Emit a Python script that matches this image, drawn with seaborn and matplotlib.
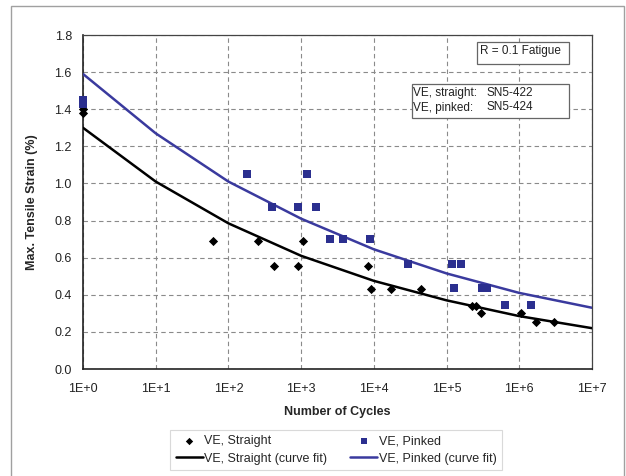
import numpy as np
import pandas as pd
import matplotlib
matplotlib.use("Agg")
import matplotlib.pyplot as plt
import seaborn as sns
from matplotlib.patches import Rectangle
from matplotlib.ticker import FixedLocator, FuncFormatter, MultipleLocator, LogLocator

# data
straight_cycles = [1, 1, 62, 252, 425, 895, 1050, 8200, 9100, 17000, 44500,
                   222000, 255000, 297000, 1070000, 1700000, 2960000]
straight_strain = [1.40, 1.38, 0.69, 0.69, 0.557, 0.557, 0.69, 0.557, 0.43, 0.43, 0.43,
                   0.341, 0.341, 0.30, 0.30, 0.253, 0.253]

pinked_cycles = [1, 1, 182, 400, 910, 1200, 1590, 2500, 3800, 8900, 29500,
                 120000, 128000, 159000, 309000, 364000, 636000, 1470000]
pinked_strain = [1.45, 1.43, 1.05, 0.875, 0.875, 1.05, 0.875, 0.70, 0.70, 0.70, 0.566,
                 0.566, 0.435, 0.566, 0.435, 0.435, 0.347, 0.347]

fit_cycles = [1, 1e1, 1e2, 1e3, 1e4, 1e5, 1e6, 1e7]
straight_fit = [1.30, 1.01, 0.785, 0.61, 0.475, 0.37, 0.285, 0.22]
pinked_fit = [1.59, 1.27, 1.01, 0.81, 0.645, 0.515, 0.41, 0.33]

x_ticks = [1, 1e1, 1e2, 1e3, 1e4, 1e5, 1e6, 1e7]
y_ticks = [0.0, 0.2, 0.4, 0.6, 0.8, 1.0, 1.2, 1.4, 1.6, 1.8]

BLUE_PT = "#2B2F8F"
BLUE_LN = "#3A3A9E"
W, H = 626, 476


def fx(x):
    return x / W


def fy(y):
    return 1 - y / H


sns.set_style("white")
plt.rcParams["font.family"] = ["Liberation Sans", "DejaVu Sans"]

fig = plt.figure(figsize=(W / 100, H / 100), dpi=100)
ax = fig.add_axes([fx(83), fy(369), (592 - 83) / W, (369 - 35) / H])

df_s = pd.DataFrame({"N": straight_cycles, "S": straight_strain})
df_p = pd.DataFrame({"N": pinked_cycles, "S": pinked_strain})
df_sf = pd.DataFrame({"N": fit_cycles, "S": straight_fit})
df_pf = pd.DataFrame({"N": fit_cycles, "S": pinked_fit})

sns.scatterplot(data=df_s, x="N", y="S", ax=ax, marker="D", s=22, color="black",
                edgecolor="black", linewidth=0, label="VE, Straight", clip_on=False, zorder=4)
sns.lineplot(data=df_sf, x="N", y="S", ax=ax, color="black", linewidth=1.8,
             label="VE, Straight (curve fit)", zorder=3)
sns.scatterplot(data=df_p, x="N", y="S", ax=ax, marker="s", s=30, color=BLUE_PT,
                edgecolor=BLUE_PT, linewidth=0, label="VE, Pinked", clip_on=False, zorder=4)
sns.lineplot(data=df_pf, x="N", y="S", ax=ax, color=BLUE_LN, linewidth=1.8,
             label="VE, Pinked (curve fit)", zorder=3)

ax.set_xscale("log")
ax.set_xlim(1, 1e7)
ax.set_ylim(0, 1.8)
ax.xaxis.set_major_locator(FixedLocator(x_ticks))
ax.xaxis.set_major_formatter(FuncFormatter(lambda v, p: "1E+%d" % round(np.log10(v))))
ax.xaxis.set_minor_locator(LogLocator(base=10, subs=np.arange(2, 10)))
ax.yaxis.set_major_locator(FixedLocator(y_ticks))
ax.yaxis.set_major_formatter(FuncFormatter(lambda v, p: "%.1f" % v))
ax.yaxis.set_minor_locator(MultipleLocator(0.04))

ax.grid(True, which="major", color="#8a8a8a", linestyle=(0, (4, 3)), linewidth=0.8)
ax.set_axisbelow(True)
ax.tick_params(which="major", direction="out", length=4, width=0.8, color="#444444",
               labelsize=9, labelcolor="#222222", pad=4)
ax.tick_params(which="minor", direction="in", length=3, width=0.6, color="#444444")
ax.tick_params(axis="x", which="major", pad=6)
for side in ["top", "right"]:
    ax.spines[side].set_color("#444444")
    ax.spines[side].set_linewidth(0.9)
for side in ["left", "bottom"]:
    ax.spines[side].set_color("#222222")
    ax.spines[side].set_linewidth(1.2)

ax.set_xlabel("Number of Cycles", fontsize=9, fontweight="bold", labelpad=8)
ax.set_ylabel("Max. Tensile Strain (%)", fontsize=9, fontweight="bold", labelpad=12)

handles, labels = ax.get_legend_handles_labels()
order = [labels.index(l) for l in ["VE, Straight", "VE, Straight (curve fit)",
                                   "VE, Pinked", "VE, Pinked (curve fit)"]]
leg = fig.legend([handles[i] for i in order], [labels[i] for i in order], ncol=2,
                 loc="center", bbox_to_anchor=(fx(336), fy(450)), fontsize=9,
                 frameon=True, fancybox=False, edgecolor="#d0d0d0", handlelength=2.2,
                 handletextpad=0.1, columnspacing=1.8, borderpad=0.45, labelspacing=0.45,
                 markerscale=0.8)
leg.get_frame().set_linewidth(0.8)
ax.get_legend().remove()

# annotation boxes
box_ec = "#666666"
fig.patches.append(Rectangle((fx(476.7), fy(64.3)), (569.3 - 476.7) / W, (64.3 - 41.7) / H,
                             transform=fig.transFigure, facecolor="white", edgecolor=box_ec,
                             linewidth=0.9, zorder=5))
fig.text(fx(479.5), fy(51), "R = 0.1 Fatigue", ha="left", va="center", fontsize=8.5,
         color="#222222", zorder=6)
fig.patches.append(Rectangle((fx(411.7), fy(118.3)), (569.3 - 411.7) / W, (118.3 - 84) / H,
                             transform=fig.transFigure, facecolor="white", edgecolor=box_ec,
                             linewidth=0.9, zorder=5))
for yy, name, code in [(93, "VE, straight:", "SN5-422"), (107.5, "VE, pinked:", "SN5-424")]:
    fig.text(fx(413.5), fy(yy), name, ha="left", va="center", fontsize=8.5, color="#222222", zorder=6)
    fig.text(fx(486.7), fy(yy), code, ha="left", va="center", fontsize=8.5, color="#222222", zorder=6)

fig.patches.append(Rectangle((fx(11), -0.05), (624 - 11) / W, fy(6) + 0.05,
                             transform=fig.transFigure, fill=False, edgecolor="#a0a0a0",
                             linewidth=1.0))

fig.savefig("out.png", dpi=100)
